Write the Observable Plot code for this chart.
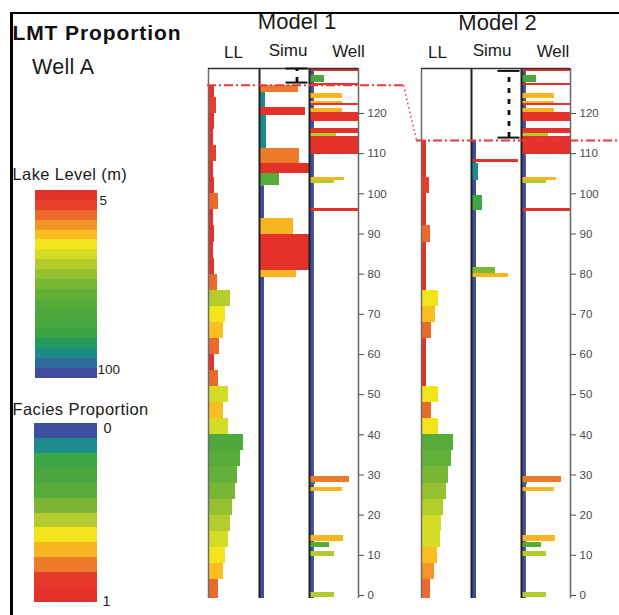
<!DOCTYPE html>
<html><head><meta charset="utf-8">
<script src="https://cdn.jsdelivr.net/npm/d3@7"></script>
<script src="https://cdn.jsdelivr.net/npm/@observablehq/plot@0.6"></script>
<style>
body{margin:0;background:#fff;}
#fig{position:relative;width:619px;height:615px;overflow:hidden;background:#fff;font-family:"Liberation Sans",Arial,sans-serif;}
.t{position:absolute;white-space:nowrap;color:#1a1a1a;line-height:1;}
.c{transform:translateX(-50%);}
.bar{position:absolute;background:#000;}
</style></head><body><div id="fig"></div>
<script>
// ---------------- DATA ----------------
const depthTicks = [0,10,20,30,40,50,60,70,80,90,100,110,120];
const llStep = 4;                       // lake-level layer thickness (depth units)
const columnBase = -0.75;               // bottom of the logs
const logTop = 131.2;                   // top of the log boxes
const modelTop = [127, 113.3];          // top of simulated interval, Model 1 / Model 2
const gapM1 = [131.2, 127.7];           // non-simulated interval bracket, Model 1
const gapM2 = [130.6, 114.0];           // non-simulated interval bracket, Model 2

// lake level (m) per layer, bottom-up
const m1LakeLevel = [16,26,31,36,40,45,50,55,60,66, 37,26,37,17,8,18,26,31,40,15, 8,7,8,7,16,8,7,13,7,8,13,8];
const m2LakeLevel = [15,24,29,35,38,42,47,52,57,62, 31,17,31,7,7,8,17,26,31,8, 7,8,16,7,8,13,7,8,8];

// simulated facies proportion, Model 1
const m1SimuTops    = [127.0,125.2,121.5,119.5,111.3,107.5,105.0,93.8,89.9,80.9];
const m1SimuBottoms = [125.2,121.5,119.5,111.3,107.5,105.0,102.0,89.9,80.9,79.2];
const m1SimuProps   = [0.78,0.12,0.92,0.14,0.80,1.0,0.40,0.68,1.0,0.74];
const m1SimuBaseTop = 102.0;

// simulated facies proportion, Model 2
const m2SimuTops    = [108.5,107.5,99.6,81.7,80.2];
const m2SimuBottoms = [107.8,103.3,95.8,80.2,79.2];
const m2SimuProps   = [0.94,0.13,0.22,0.48,0.74];
const m2SimuBaseTop = 113.3;

// well facies proportion (same well in both models)
const wellTops    = [131.0,129.4,127.5,124.9,123.1,122.5,121.2,120.2,116.2,115.1,114.3,104.1,103.3,96.3,29.6,28.1,26.9,14.9,13.2,11.0,0.8];
const wellBottoms = [130.4,127.8,126.9,123.8,122.6,121.9,120.3,118.0,115.1,114.3,109.7,103.3,102.6,95.6,28.1,27.6,25.9,13.4,11.9,9.7,-0.4];
const wellProps   = [1,0.30,1,0.68,0.68,1,0.68,1,1,0.55,1,0.72,0.50,1,0.82,0.12,0.68,0.70,0.40,0.50,0.50];
const wellBaseTop = 131.0;

// colour legends
const llLegendTicks = [5,100];
const llBandStarts = [5,10,15,20,25,30,35,40,45,50,55,60,65,70,75,80,85,90,95];
const llPalette = ["#e4312a","#e6402a","#eb6a2b","#f39627","#fbbd1f","#f3e51b","#d4dc26","#b5cd2c","#95c131","#78b635","#62b037","#56ab39","#4ea83b","#47a63d","#3aa346","#25995e","#1d8c84","#2e6a9c","#404c9c"];
const facLegendTicks = [0,1];
const facPalette = ["#3e4e9e","#1d8a8d","#3ca744","#4aa63c","#56ab39","#7cb634","#b3cb2c","#f3e41b","#f9b421","#ee7a2b","#e5392a","#e4312a"];

// ---------------- LAYOUT ----------------
const H = 615;
const yDomain = [columnBase, logTop];
const M = {marginTop: 68, marginBottom: 17};
const axisMargin = 45;
const minW = 0.1;            // minimum drawn width of a facies bar (fraction of column)
const llX = [-3, 98];        // lake-level axis of the LL columns
const cols = {
  m1: {ll:[208,51], simu:[259,50], well:[309,49]},
  m2: {ll:[421,50], simu:[471,50], well:[521,49]}
};
const baseStyle = {background:"transparent", overflow:"visible", fontFamily:"Liberation Sans, Arial, sans-serif"};
const llColor  = {type:"threshold", domain: llBandStarts.slice(1), range: llPalette};
const facColor = {type:"threshold", domain: d3.range(1,12).map(i=>i/12), range: facPalette};

const fig = document.getElementById("fig");
function place(el, left, topPx=0){ el.style.position="absolute"; el.style.left=left+"px"; el.style.top=topPx+"px"; fig.appendChild(el); }
function layers(tops, bottoms, props){ return tops.map((t,i)=>({top:t, bottom:bottoms[i], p:props[i]})); }

function llPlot(values, topDepth, [left, width]) {
  const data = values.map((v,i)=>({bottom: i===0 ? columnBase : i*llStep, top: Math.min((i+1)*llStep, topDepth), ll: v}));
  place(Plot.plot({
    width, height:H, ...M, marginLeft:0, marginRight:0,
    x:{domain:llX, axis:null}, y:{domain:yDomain, axis:null, label:null}, color: llColor, style: baseStyle,
    marks:[
      Plot.rect(data, {x1: llX[0], x2:"ll", y1:"bottom", y2:"top", fill:"ll", shapeRendering:"crispEdges"}),
      Plot.ruleX([llX[0]], {stroke:"#6e6e6e", strokeWidth:1.5}),
      Plot.ruleY([logTop], {stroke:"#333", strokeWidth:1.5})
    ]
  }), left);
}

function simuPlot(data, baseTop, gap, [left, width]) {
  place(Plot.plot({
    width, height:H, ...M, marginLeft:0, marginRight:0,
    x:{domain:[0,1], axis:null}, y:{domain:yDomain, axis:null, label:null}, color: facColor, style: baseStyle,
    marks:[
      Plot.rect([[columnBase, baseTop]], {x1:0, x2:minW, y1:d=>d[0], y2:d=>d[1], fill:()=>0}),
      Plot.rect(data, {x1:0, x2:d=>Math.max(d.p,minW), y1:"bottom", y2:"top", fill:"p", shapeRendering:"crispEdges"}),
      Plot.ruleX([0], {stroke:"#222", strokeWidth:2}),
      Plot.ruleY([logTop], {stroke:"#333", strokeWidth:1.5}),
      Plot.ruleY(gap, {x1:0.53, x2:0.97, stroke:"#111", strokeWidth:2}),
      Plot.ruleX([0.75], {y1:gap[1], y2:gap[0], stroke:"#111", strokeWidth:2.8, strokeDasharray:"5,6"})
    ]
  }), left);
}

function wellPlot([left, width]) {
  const data = layers(wellTops, wellBottoms, wellProps);
  place(Plot.plot({
    width: width + axisMargin, height:H, ...M, marginLeft:0, marginRight:axisMargin,
    x:{domain:[0,1], axis:null},
    y:{domain:yDomain, axis:"right", ticks:depthTicks, tickSize:5, tickPadding:4, tickFormat:d=>String(d), label:null},
    color: facColor, style:{...baseStyle, fontSize:"11.5px", color:"#4a4a4a"},
    marks:[
      Plot.rect([[columnBase, wellBaseTop]], {x1:0, x2:minW, y1:d=>d[0], y2:d=>d[1], fill:()=>0}),
      Plot.rect(data, {x1:0, x2:d=>Math.max(d.p,minW), y1:"bottom", y2:"top", fill:"p", shapeRendering:"crispEdges"}),
      Plot.ruleX([0], {stroke:"#222", strokeWidth:2}),
      Plot.ruleX([1], {stroke:"#666", strokeWidth:1.5}),
      Plot.ruleY([logTop], {stroke:"#333", strokeWidth:1.5})
    ]
  }), left);
}

llPlot(m1LakeLevel, modelTop[0], cols.m1.ll);
simuPlot(layers(m1SimuTops, m1SimuBottoms, m1SimuProps), m1SimuBaseTop, gapM1, cols.m1.simu);
wellPlot(cols.m1.well);
llPlot(m2LakeLevel, modelTop[1], cols.m2.ll);
simuPlot(layers(m2SimuTops, m2SimuBottoms, m2SimuProps), m2SimuBaseTop, gapM2, cols.m2.simu);
wellPlot(cols.m2.well);

// model-top correlation line (overlay in page pixel space)
const m1Start = cols.m1.ll[0] - 1;
const m1End = cols.m1.well[0] + cols.m1.well[1] + axisMargin;
const m2Start = cols.m2.ll[0] - 5;
const figW = 619;
place(Plot.plot({
  width: figW, height:H, ...M, marginLeft:0, marginRight:0,
  x:{domain:[0, figW], axis:null}, y:{domain:yDomain, axis:null, label:null}, style: baseStyle,
  marks:[
    Plot.ruleY([modelTop[0]], {x1:m1Start, x2:m1End, stroke:"#e8383d", strokeWidth:2, strokeDasharray:"9,3,2,3"}),
    Plot.link([modelTop], {x1:m1End, y1:d=>d[0], x2:m2Start, y2:d=>d[1], stroke:"#e8383d", strokeWidth:1.5, strokeDasharray:"1.5,3"}),
    Plot.ruleY([modelTop[1]], {x1:m2Start, x2:figW, stroke:"#e8383d", strokeWidth:2, strokeDasharray:"9,3,2,3"})
  ]
}), 0);

// legends
place(Plot.plot({
  width: 62+35, height:188, marginTop:0, marginBottom:0, marginLeft:0, marginRight:35,
  x:{domain:[0,1], axis:null}, y:{domain:[5,100], range:[0,188], axis:null, label:null},
  color: llColor, style: baseStyle,
  marks:[
    Plot.rect(llBandStarts, {x1:0, x2:1, y1:d=>d, y2:d=>d+5, fill:d=>d+2.5, shapeRendering:"crispEdges"}),
    Plot.text([llLegendTicks[0]], {x:1, y:d=>d, text:d=>String(d), textAnchor:"start", lineAnchor:"top", dx:2, dy:5, fontSize:13.5, fill:"#222"}),
    Plot.text([llLegendTicks[1]], {x:1, y:d=>d, text:d=>String(d), textAnchor:"start", lineAnchor:"bottom", dx:0, dy:-5, fontSize:13.5, fill:"#222"})
  ]
}), 35, 190);

const facBands = d3.range(12).map(i=>i/12);
place(Plot.plot({
  width: 63+35, height:179, marginTop:0, marginBottom:0, marginLeft:0, marginRight:35,
  x:{domain:[0,1], axis:null}, y:{domain:[0,1], range:[0,179], axis:null, label:null},
  color: facColor, style: baseStyle,
  marks:[
    Plot.rect(facBands, {x1:0, x2:1, y1:d=>d, y2:d=>d+1/12, fill:d=>d+1/24, shapeRendering:"crispEdges"}),
    Plot.text([facLegendTicks[0]], {x:1, y:d=>d, text:d=>String(d), textAnchor:"start", lineAnchor:"top", dx:6, dy:-1, fontSize:14.5, fill:"#222"}),
    Plot.text([facLegendTicks[1]], {x:1, y:d=>d, text:d=>String(d), textAnchor:"start", lineAnchor:"bottom", dx:5, dy:3, fontSize:14.5, fill:"#222"})
  ]
}), 34, 423);

// texts and frame
function txt(s, left, baseline, size, extra="", cls="t") {
  const d = document.createElement("div");
  d.className = cls; d.textContent = s;
  d.style.left = left+"px"; d.style.top = (baseline - 0.8465*size)+"px"; d.style.fontSize = size+"px";
  d.style.cssText += extra; fig.appendChild(d);
}
txt("LMT Proportion", 12.5, 39.5, 21, "font-weight:bold;letter-spacing:0.9px;color:#111;");
txt("Well A", 32, 75, 21.5, "letter-spacing:0.3px;");
txt("Lake Level (m)", 12.5, 179.5, 16.5, "letter-spacing:0.4px;");
txt("Facies Proportion", 12.5, 415, 16.5, "letter-spacing:0.4px;");
txt("Model 1", 297, 30, 22, "", "t c");
txt("Model 2", 497.5, 31, 22, "", "t c");
txt("LL", 233.5, 58, 17, "", "t c");
txt("Simu", 288, 56, 17, "", "t c");
txt("Well", 348.5, 57, 17, "", "t c");
txt("LL", 437.5, 58, 17, "", "t c");
txt("Simu", 492, 56, 17, "", "t c");
txt("Well", 553, 57, 17, "", "t c");

const topBar = document.createElement("div"); topBar.className="bar";
topBar.style.cssText += "left:10px;top:12.3px;width:609px;height:2px;"; fig.appendChild(topBar);
const leftBar = document.createElement("div"); leftBar.className="bar";
leftBar.style.cssText += "left:10px;top:12.3px;width:2.5px;height:603px;"; fig.appendChild(leftBar);
</script></body></html>
